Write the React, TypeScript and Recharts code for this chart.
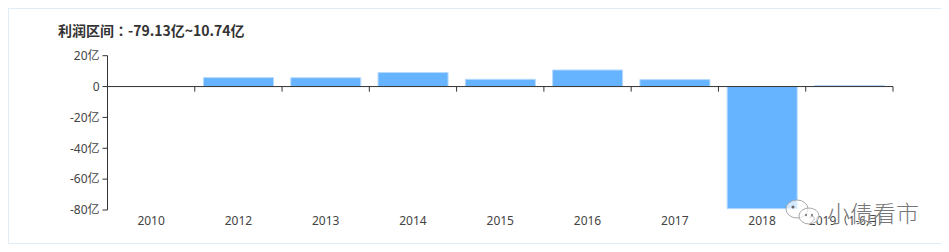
import React from 'react';
import { BarChart, Bar, XAxis, YAxis, ReferenceLine } from 'recharts';

const categories = ['2010', '2012', '2013', '2014', '2015', '2016', '2017', '2018', '2019（1-6月）'];
const profits = [null, 5.8, 5.7, 9.1, 4.7, 10.74, 4.5, -79.13, 0.7];
const yTicks = [-80, -60, -40, -20, 0, 20];
const titleText = '利润区间：-79.13亿~10.74亿';
const watermark = '小债看市';

const data = categories.map((c, i) => ({ name: c, value: profits[i] }));

const FONT = "'Noto Sans', 'Noto Sans CJK SC', sans-serif";

const fmtY = (v: number) => (v === 0 ? '0' : `${v}亿`);

export default function App() {
  return (
    <div
      style={{
        position: 'relative',
        width: 950,
        height: 234,
        border: '1px solid #e0ecf6',
        fontFamily: FONT,
      }}
    >
      <div
        style={{
          position: 'absolute',
          left: 49,
          top: 11,
          lineHeight: '20px',
          fontSize: 14,
          fontWeight: 'bold',
          color: '#333',
          fontFamily: "'Noto Sans CJK JP', 'Noto Sans CJK SC', sans-serif",
          whiteSpace: 'nowrap',
        }}
      >
        {titleText}
      </div>
      <BarChart
        width={940}
        height={234}
        data={data}
        margin={{ top: 46.7, right: 56, left: 0, bottom: 0 }}
        barCategoryGap="10%"
      >
        <XAxis
          dataKey="name"
          axisLine={false}
          tickLine={false}
          height={33}
          tickSize={3}
          tickMargin={3}
          interval={0}
          tick={{ fill: '#444', fontSize: 12, fontFamily: FONT }}
        />
        <YAxis
          domain={[-80, 20]}
          ticks={yTicks}
          width={98.5}
          tickFormatter={fmtY}
          axisLine={{ stroke: '#333' }}
          tickLine={{ stroke: '#333' }}
          tickSize={5}
          tickMargin={3}
          tick={{ fill: '#444', fontSize: 12, fontFamily: FONT }}
        />
        <Bar
          dataKey="value"
          fill="#66b3ff"
          stroke="#b5d9ff"
          strokeWidth={1}
          isAnimationActive={false}
        />
        <ReferenceLine y={0} stroke="#333" strokeWidth={1} />
        {categories.slice(1).map((c) => (
          <ReferenceLine
            key={c}
            segment={[
              { x: c, y: 0 },
              { x: c, y: -3.3 },
            ]}
            position="start"
            stroke="#333"
          />
        ))}
        <ReferenceLine
          segment={[
            { x: categories[categories.length - 1], y: 0 },
            { x: categories[categories.length - 1], y: -3.3 },
          ]}
          position="end"
          stroke="#333"
        />
      </BarChart>
      <div
        style={{
          position: 'absolute',
          left: 774,
          top: 186,
          display: 'flex',
          alignItems: 'center',
          pointerEvents: 'none',
        }}
      >
        <svg width={42} height={30} style={{ marginRight: 2 }}>
          <ellipse cx={14} cy={12} rx={11} ry={9} fill="rgba(255,255,255,0.7)" stroke="#aaa" strokeWidth={1} />
          <ellipse cx={26} cy={19} rx={10} ry={8} fill="rgba(255,255,255,0.7)" stroke="#aaa" strokeWidth={1} />
          <circle cx={10} cy={10} r={1.5} fill="#666" />
          <circle cx={23} cy={18} r={1.2} fill="#888" />
          <circle cx={29} cy={18} r={1.2} fill="#888" />
        </svg>
        <span
          style={{
            fontSize: 23,
            color: '#777',
            fontFamily: "'Noto Sans CJK SC', sans-serif",
            fontWeight: 300,
            textShadow: '0 0 2px #fff',
            whiteSpace: 'nowrap',
          }}
        >
          {watermark}
        </span>
      </div>
    </div>
  );
}
